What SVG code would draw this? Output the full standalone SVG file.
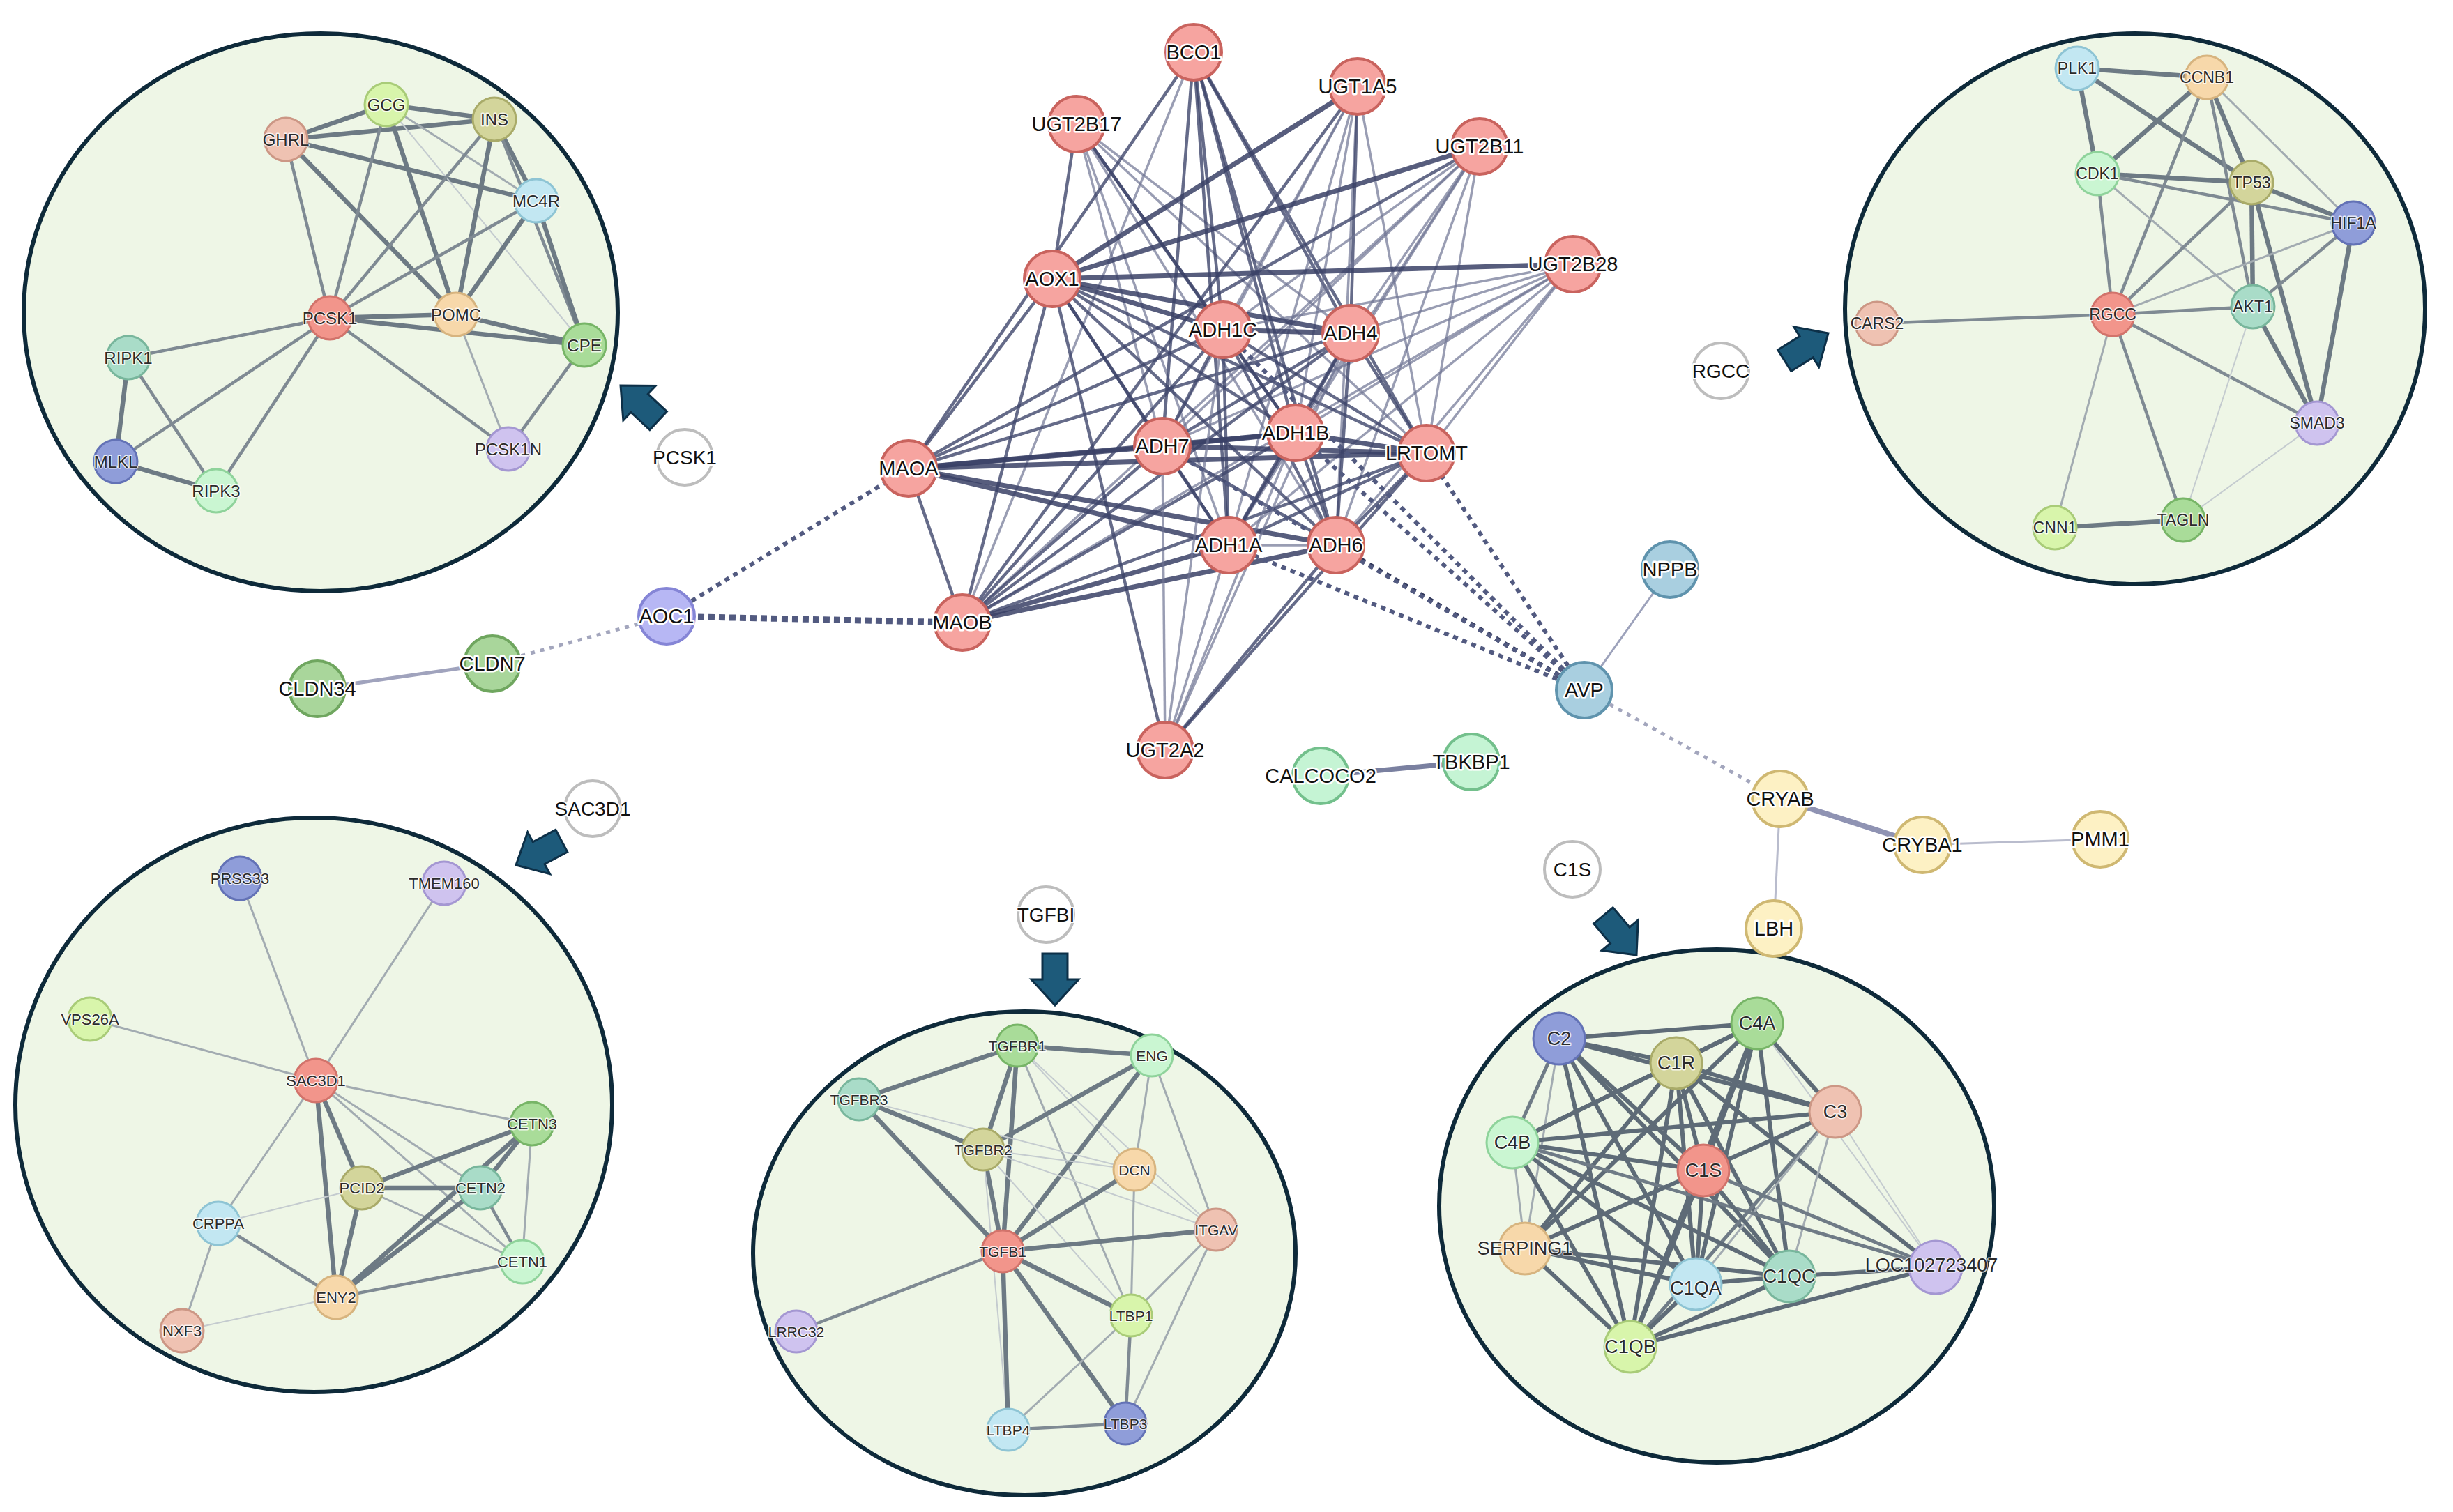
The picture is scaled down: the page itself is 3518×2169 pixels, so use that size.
<svg xmlns="http://www.w3.org/2000/svg" width="3518" height="2169" viewBox="0 0 3518 2169">
<style>
.bg{fill:#fff}
.cl{fill:#eef6e6;stroke:#0e2a3a;stroke-width:6}
line{fill:none}
.k1{stroke:#6d7a84;stroke-width:6.5}
.k2{stroke:#7f8a93;stroke-width:4.5}
.k3{stroke:#a2abb1;stroke-width:3}
.k4{stroke:#c4cbcf;stroke-width:2}
.br .k1{stroke:#5e6b77;stroke-width:6}
.br .k2{stroke:#6f7b86;stroke-width:5}
.e1{stroke:#3a4166;stroke-width:7;stroke-opacity:.85}
.e2{stroke:#3f466b;stroke-width:4.5;stroke-opacity:.8}
.e3{stroke:#6d7493;stroke-width:3.5;stroke-opacity:.7}
.dt{stroke:#525a80;stroke-width:6;stroke-dasharray:7 7}
.dk{stroke:#2f3659;stroke-width:7;stroke-dasharray:7 7}
.dl{stroke:#a3a6bd;stroke-width:5;stroke-dasharray:6 8}
.n{stroke-width:3}
.red{fill:#f2958b;stroke:#d2736b}
.lgr{fill:#d8f5ab;stroke:#a9cc78}
.olv{fill:#d3d59b;stroke:#a9ab69}
.sal{fill:#efc2b2;stroke:#cc9785}
.lbl{fill:#c2e7f2;stroke:#8ec4d4}
.pch{fill:#f7d8aa;stroke:#d7b47f}
.grn{fill:#a9dc99;stroke:#77b567}
.tea{fill:#a9dcc8;stroke:#78b69c}
.blu{fill:#8f9dd9;stroke:#6372b6}
.mnt{fill:#caf6d2;stroke:#8fd39b}
.lav{fill:#cfc3ef;stroke:#a497d2}
.c{stroke-width:4}
.cr{fill:#f6a4a0;stroke:#c9635e}
.cb{fill:#a9cfe0;stroke:#5f93ad}
.cp{fill:#b7b7f4;stroke:#8585d6}
.cg{fill:#a9d69b;stroke:#6fa65f}
.cm{fill:#c5f4d4;stroke:#73c08c}
.cy{fill:#fdf1c4;stroke:#cfb872}
.cw{fill:#fff;stroke:#bdbdbd}
text{font-family:"Liberation Sans",Arial,sans-serif;text-anchor:middle;dominant-baseline:central;paint-order:stroke;stroke-linejoin:round}
.lc{font-size:29px;fill:#111;stroke:#fff;stroke-width:5}
.lw{font-size:28px;fill:#111;stroke:#fff;stroke-width:4}
.ls{fill:#2b2b2b;stroke:#fff;stroke-width:3;stroke-opacity:.8}
.f24{font-size:24px}.f23{font-size:23px}.f22{font-size:22px}.f21{font-size:21px}.f27{font-size:27px}
.arr{fill:#1d5a7a;stroke:#0d3048;stroke-width:3;stroke-linejoin:miter}
</style>
<defs>
<path id="arrow" class="arr" d="M0,0 L-37,-34 L-37,-18 L-74,-18 L-74,18 L-37,18 L-37,34 Z"/>
</defs>
<rect class="bg" x="0" y="0" width="3518" height="2169"/>

<g id="clusters">
<ellipse id="cluster-tl" class="cl" cx="460" cy="448" rx="426" ry="400"/>
<ellipse id="cluster-tr" class="cl" cx="3062" cy="443" rx="416" ry="395"/>
<ellipse id="cluster-bl" class="cl" cx="450" cy="1585" rx="428" ry="412"/>
<ellipse id="cluster-bm" class="cl" cx="1469" cy="1798" rx="389" ry="347"/>
<ellipse id="cluster-br" class="cl" cx="2462" cy="1730" rx="398" ry="368"/>
</g>

<g id="connectors">
<g id="edges-tl">
<line class="k1" x1="410" y1="200" x2="554" y2="150"/>
<line class="k1" x1="410" y1="200" x2="709" y2="171"/>
<line class="k1" x1="554" y1="150" x2="709" y2="171"/>
<line class="k1" x1="410" y1="200" x2="769" y2="288"/>
<line class="k2" x1="410" y1="200" x2="473" y2="456"/>
<line class="k1" x1="410" y1="200" x2="654" y2="451"/>
<line class="k2" x1="554" y1="150" x2="473" y2="456"/>
<line class="k1" x1="554" y1="150" x2="654" y2="451"/>
<line class="k3" x1="554" y1="150" x2="769" y2="288"/>
<line class="k4" x1="554" y1="150" x2="838" y2="495"/>
<line class="k1" x1="709" y1="171" x2="769" y2="288"/>
<line class="k2" x1="709" y1="171" x2="473" y2="456"/>
<line class="k1" x1="709" y1="171" x2="654" y2="451"/>
<line class="k2" x1="709" y1="171" x2="838" y2="495"/>
<line class="k2" x1="769" y1="288" x2="473" y2="456"/>
<line class="k1" x1="769" y1="288" x2="654" y2="451"/>
<line class="k1" x1="769" y1="288" x2="838" y2="495"/>
<line class="k1" x1="473" y1="456" x2="654" y2="451"/>
<line class="k1" x1="473" y1="456" x2="838" y2="495"/>
<line class="k1" x1="654" y1="451" x2="838" y2="495"/>
<line class="k2" x1="473" y1="456" x2="184" y2="513"/>
<line class="k2" x1="473" y1="456" x2="166" y2="662"/>
<line class="k2" x1="473" y1="456" x2="310" y2="704"/>
<line class="k2" x1="473" y1="456" x2="729" y2="644"/>
<line class="k3" x1="654" y1="451" x2="729" y2="644"/>
<line class="k2" x1="838" y1="495" x2="729" y2="644"/>
<line class="k1" x1="184" y1="513" x2="166" y2="662"/>
<line class="k2" x1="184" y1="513" x2="310" y2="704"/>
<line class="k1" x1="166" y1="662" x2="310" y2="704"/>
</g>
<g id="edges-tr">
<line class="k1" x1="2979" y1="98" x2="3165" y2="111"/>
<line class="k1" x1="2979" y1="98" x2="3008" y2="249"/>
<line class="k1" x1="2979" y1="98" x2="3229" y2="262"/>
<line class="k1" x1="3165" y1="111" x2="3008" y2="249"/>
<line class="k1" x1="3165" y1="111" x2="3229" y2="262"/>
<line class="k2" x1="3165" y1="111" x2="3030" y2="451"/>
<line class="k2" x1="3165" y1="111" x2="3231" y2="440"/>
<line class="k3" x1="3165" y1="111" x2="3375" y2="320"/>
<line class="k1" x1="3008" y1="249" x2="3229" y2="262"/>
<line class="k2" x1="3008" y1="249" x2="3375" y2="320"/>
<line class="k2" x1="3008" y1="249" x2="3030" y2="451"/>
<line class="k3" x1="3008" y1="249" x2="3231" y2="440"/>
<line class="k1" x1="3229" y1="262" x2="3375" y2="320"/>
<line class="k2" x1="3229" y1="262" x2="3030" y2="451"/>
<line class="k1" x1="3229" y1="262" x2="3231" y2="440"/>
<line class="k1" x1="3229" y1="262" x2="3323" y2="607"/>
<line class="k3" x1="3375" y1="320" x2="3030" y2="451"/>
<line class="k2" x1="3375" y1="320" x2="3231" y2="440"/>
<line class="k1" x1="3375" y1="320" x2="3323" y2="607"/>
<line class="k2" x1="3030" y1="451" x2="3231" y2="440"/>
<line class="k2" x1="3030" y1="451" x2="2692" y2="464"/>
<line class="k2" x1="3030" y1="451" x2="3323" y2="607"/>
<line class="k3" x1="3030" y1="451" x2="2947" y2="757"/>
<line class="k2" x1="3030" y1="451" x2="3131" y2="746"/>
<line class="k1" x1="3231" y1="440" x2="3323" y2="607"/>
<line class="k4" x1="3231" y1="440" x2="3131" y2="746"/>
<line class="k4" x1="3323" y1="607" x2="3131" y2="746"/>
<line class="k1" x1="2947" y1="757" x2="3131" y2="746"/>
</g>
<g id="edges-bl">
<line class="k3" x1="344" y1="1260" x2="453" y2="1550"/>
<line class="k3" x1="637" y1="1267" x2="453" y2="1550"/>
<line class="k3" x1="129" y1="1462" x2="453" y2="1550"/>
<line class="k3" x1="453" y1="1550" x2="763" y2="1612"/>
<line class="k1" x1="453" y1="1550" x2="519" y2="1704"/>
<line class="k1" x1="453" y1="1550" x2="482" y2="1861"/>
<line class="k3" x1="453" y1="1550" x2="689" y2="1704"/>
<line class="k3" x1="453" y1="1550" x2="749" y2="1810"/>
<line class="k3" x1="453" y1="1550" x2="313" y2="1755"/>
<line class="k1" x1="519" y1="1704" x2="763" y2="1612"/>
<line class="k1" x1="519" y1="1704" x2="689" y2="1704"/>
<line class="k1" x1="519" y1="1704" x2="482" y2="1861"/>
<line class="k4" x1="519" y1="1704" x2="313" y2="1755"/>
<line class="k3" x1="519" y1="1704" x2="749" y2="1810"/>
<line class="k1" x1="689" y1="1704" x2="763" y2="1612"/>
<line class="k1" x1="689" y1="1704" x2="482" y2="1861"/>
<line class="k1" x1="763" y1="1612" x2="482" y2="1861"/>
<line class="k2" x1="689" y1="1704" x2="749" y2="1810"/>
<line class="k3" x1="763" y1="1612" x2="749" y2="1810"/>
<line class="k2" x1="482" y1="1861" x2="749" y2="1810"/>
<line class="k2" x1="482" y1="1861" x2="313" y2="1755"/>
<line class="k4" x1="482" y1="1861" x2="261" y2="1909"/>
<line class="k3" x1="313" y1="1755" x2="261" y2="1909"/>
</g>
<g id="edges-bm">
<line class="k1" x1="1459" y1="1500" x2="1652" y2="1514"/>
<line class="k1" x1="1459" y1="1500" x2="1232" y2="1577"/>
<line class="k1" x1="1459" y1="1500" x2="1410" y2="1649"/>
<line class="k1" x1="1459" y1="1500" x2="1438" y2="1795"/>
<line class="k4" x1="1459" y1="1500" x2="1627" y2="1678"/>
<line class="k3" x1="1459" y1="1500" x2="1622" y2="1887"/>
<line class="k4" x1="1459" y1="1500" x2="1744" y2="1764"/>
<line class="k1" x1="1652" y1="1514" x2="1410" y2="1649"/>
<line class="k1" x1="1652" y1="1514" x2="1438" y2="1795"/>
<line class="k3" x1="1652" y1="1514" x2="1627" y2="1678"/>
<line class="k3" x1="1652" y1="1514" x2="1744" y2="1764"/>
<line class="k1" x1="1232" y1="1577" x2="1410" y2="1649"/>
<line class="k1" x1="1232" y1="1577" x2="1438" y2="1795"/>
<line class="k4" x1="1232" y1="1577" x2="1627" y2="1678"/>
<line class="k1" x1="1410" y1="1649" x2="1438" y2="1795"/>
<line class="k4" x1="1410" y1="1649" x2="1627" y2="1678"/>
<line class="k4" x1="1410" y1="1649" x2="1744" y2="1764"/>
<line class="k4" x1="1410" y1="1649" x2="1622" y2="1887"/>
<line class="k4" x1="1410" y1="1649" x2="1446" y2="2051"/>
<line class="k1" x1="1627" y1="1678" x2="1438" y2="1795"/>
<line class="k3" x1="1627" y1="1678" x2="1622" y2="1887"/>
<line class="k4" x1="1627" y1="1678" x2="1744" y2="1764"/>
<line class="k1" x1="1744" y1="1764" x2="1438" y2="1795"/>
<line class="k3" x1="1744" y1="1764" x2="1622" y2="1887"/>
<line class="k3" x1="1744" y1="1764" x2="1614" y2="2042"/>
<line class="k1" x1="1438" y1="1795" x2="1622" y2="1887"/>
<line class="k2" x1="1438" y1="1795" x2="1142" y2="1910"/>
<line class="k1" x1="1438" y1="1795" x2="1446" y2="2051"/>
<line class="k1" x1="1438" y1="1795" x2="1614" y2="2042"/>
<line class="k2" x1="1622" y1="1887" x2="1614" y2="2042"/>
<line class="k3" x1="1622" y1="1887" x2="1446" y2="2051"/>
<line class="k2" x1="1446" y1="2051" x2="1614" y2="2042"/>
</g>
<g id="edges-br" class="br">
<line class="k1" x1="2236" y1="1490" x2="2520" y2="1468"/>
<line class="k1" x1="2236" y1="1490" x2="2404" y2="1525"/>
<line class="k1" x1="2236" y1="1490" x2="2632" y2="1595"/>
<line class="k2" x1="2236" y1="1490" x2="2169" y2="1639"/>
<line class="k3" x1="2236" y1="1490" x2="2187" y2="1791"/>
<line class="k1" x1="2236" y1="1490" x2="2338" y2="1932"/>
<line class="k1" x1="2236" y1="1490" x2="2432" y2="1842"/>
<line class="k1" x1="2236" y1="1490" x2="2566" y2="1831"/>
<line class="k1" x1="2236" y1="1490" x2="2443" y2="1679"/>
<line class="k1" x1="2520" y1="1468" x2="2404" y2="1525"/>
<line class="k1" x1="2520" y1="1468" x2="2632" y2="1595"/>
<line class="k1" x1="2520" y1="1468" x2="2169" y2="1639"/>
<line class="k1" x1="2520" y1="1468" x2="2443" y2="1679"/>
<line class="k1" x1="2520" y1="1468" x2="2432" y2="1842"/>
<line class="k1" x1="2520" y1="1468" x2="2338" y2="1932"/>
<line class="k1" x1="2520" y1="1468" x2="2566" y2="1831"/>
<line class="k4" x1="2520" y1="1468" x2="2776" y2="1818"/>
<line class="k1" x1="2520" y1="1468" x2="2187" y2="1791"/>
<line class="k1" x1="2404" y1="1525" x2="2632" y2="1595"/>
<line class="k1" x1="2404" y1="1525" x2="2169" y2="1639"/>
<line class="k1" x1="2404" y1="1525" x2="2443" y2="1679"/>
<line class="k1" x1="2404" y1="1525" x2="2187" y2="1791"/>
<line class="k1" x1="2404" y1="1525" x2="2432" y2="1842"/>
<line class="k1" x1="2404" y1="1525" x2="2338" y2="1932"/>
<line class="k1" x1="2404" y1="1525" x2="2566" y2="1831"/>
<line class="k1" x1="2404" y1="1525" x2="2776" y2="1818"/>
<line class="k1" x1="2632" y1="1595" x2="2169" y2="1639"/>
<line class="k1" x1="2632" y1="1595" x2="2443" y2="1679"/>
<line class="k2" x1="2632" y1="1595" x2="2338" y2="1932"/>
<line class="k3" x1="2632" y1="1595" x2="2432" y2="1842"/>
<line class="k3" x1="2632" y1="1595" x2="2566" y2="1831"/>
<line class="k4" x1="2632" y1="1595" x2="2776" y2="1818"/>
<line class="k1" x1="2169" y1="1639" x2="2443" y2="1679"/>
<line class="k3" x1="2169" y1="1639" x2="2187" y2="1791"/>
<line class="k1" x1="2169" y1="1639" x2="2432" y2="1842"/>
<line class="k1" x1="2169" y1="1639" x2="2338" y2="1932"/>
<line class="k1" x1="2169" y1="1639" x2="2566" y2="1831"/>
<line class="k2" x1="2169" y1="1639" x2="2776" y2="1818"/>
<line class="k1" x1="2443" y1="1679" x2="2187" y2="1791"/>
<line class="k1" x1="2443" y1="1679" x2="2432" y2="1842"/>
<line class="k1" x1="2443" y1="1679" x2="2338" y2="1932"/>
<line class="k1" x1="2443" y1="1679" x2="2566" y2="1831"/>
<line class="k2" x1="2443" y1="1679" x2="2776" y2="1818"/>
<line class="k1" x1="2187" y1="1791" x2="2432" y2="1842"/>
<line class="k1" x1="2187" y1="1791" x2="2566" y2="1831"/>
<line class="k1" x1="2187" y1="1791" x2="2338" y2="1932"/>
<line class="k1" x1="2432" y1="1842" x2="2566" y2="1831"/>
<line class="k1" x1="2432" y1="1842" x2="2338" y2="1932"/>
<line class="k1" x1="2566" y1="1831" x2="2338" y2="1932"/>
<line class="k1" x1="2566" y1="1831" x2="2776" y2="1818"/>
<line class="k1" x1="2338" y1="1932" x2="2776" y2="1818"/>
</g>
<g id="edges-center">
<line class="e2" x1="1544" y1="178" x2="1509" y2="400"/>
<line class="e3" x1="1544" y1="178" x2="1667" y2="640"/>
<line class="e2" x1="1544" y1="178" x2="1754" y2="473"/>
<line class="e2" x1="1544" y1="178" x2="1858" y2="621"/>
<line class="e3" x1="1544" y1="178" x2="1762" y2="782"/>
<line class="e3" x1="1544" y1="178" x2="1916" y2="782"/>
<line class="e3" x1="1544" y1="178" x2="1937" y2="478"/>
<line class="e3" x1="1544" y1="178" x2="2046" y2="650"/>
<line class="e2" x1="1712" y1="75" x2="1303" y2="672"/>
<line class="e2" x1="1712" y1="75" x2="1667" y2="640"/>
<line class="e2" x1="1712" y1="75" x2="1754" y2="473"/>
<line class="e2" x1="1712" y1="75" x2="1858" y2="621"/>
<line class="e2" x1="1712" y1="75" x2="1762" y2="782"/>
<line class="e2" x1="1712" y1="75" x2="1916" y2="782"/>
<line class="e2" x1="1712" y1="75" x2="1937" y2="478"/>
<line class="e2" x1="1712" y1="75" x2="2046" y2="650"/>
<line class="e3" x1="1712" y1="75" x2="1380" y2="893"/>
<line class="e1" x1="1947" y1="124" x2="1509" y2="400"/>
<line class="e3" x1="1947" y1="124" x2="1667" y2="640"/>
<line class="e3" x1="1947" y1="124" x2="1754" y2="473"/>
<line class="e3" x1="1947" y1="124" x2="1858" y2="621"/>
<line class="e3" x1="1947" y1="124" x2="1762" y2="782"/>
<line class="e3" x1="1947" y1="124" x2="1916" y2="782"/>
<line class="e2" x1="1947" y1="124" x2="1937" y2="478"/>
<line class="e3" x1="1947" y1="124" x2="2046" y2="650"/>
<line class="e2" x1="1947" y1="124" x2="1380" y2="893"/>
<line class="e1" x1="2122" y1="210" x2="1509" y2="400"/>
<line class="e3" x1="2122" y1="210" x2="1667" y2="640"/>
<line class="e3" x1="2122" y1="210" x2="1754" y2="473"/>
<line class="e3" x1="2122" y1="210" x2="1858" y2="621"/>
<line class="e3" x1="2122" y1="210" x2="1762" y2="782"/>
<line class="e3" x1="2122" y1="210" x2="1916" y2="782"/>
<line class="e3" x1="2122" y1="210" x2="1937" y2="478"/>
<line class="e3" x1="2122" y1="210" x2="2046" y2="650"/>
<line class="e2" x1="2122" y1="210" x2="1303" y2="672"/>
<line class="e3" x1="2122" y1="210" x2="1380" y2="893"/>
<line class="e1" x1="2256" y1="379" x2="1509" y2="400"/>
<line class="e3" x1="2256" y1="379" x2="1667" y2="640"/>
<line class="e3" x1="2256" y1="379" x2="1754" y2="473"/>
<line class="e3" x1="2256" y1="379" x2="1858" y2="621"/>
<line class="e3" x1="2256" y1="379" x2="1762" y2="782"/>
<line class="e3" x1="2256" y1="379" x2="1916" y2="782"/>
<line class="e3" x1="2256" y1="379" x2="1937" y2="478"/>
<line class="e3" x1="2256" y1="379" x2="2046" y2="650"/>
<line class="e3" x1="2256" y1="379" x2="1380" y2="893"/>
<line class="e2" x1="1509" y1="400" x2="1303" y2="672"/>
<line class="e2" x1="1509" y1="400" x2="1380" y2="893"/>
<line class="e2" x1="1509" y1="400" x2="1667" y2="640"/>
<line class="e1" x1="1509" y1="400" x2="1754" y2="473"/>
<line class="e1" x1="1509" y1="400" x2="1937" y2="478"/>
<line class="e2" x1="1509" y1="400" x2="1858" y2="621"/>
<line class="e2" x1="1509" y1="400" x2="1762" y2="782"/>
<line class="e2" x1="1509" y1="400" x2="1916" y2="782"/>
<line class="e2" x1="1509" y1="400" x2="2046" y2="650"/>
<line class="e2" x1="1509" y1="400" x2="1671" y2="1076"/>
<line class="e2" x1="1303" y1="672" x2="1380" y2="893"/>
<line class="e1" x1="1303" y1="672" x2="1667" y2="640"/>
<line class="e1" x1="1303" y1="672" x2="1858" y2="621"/>
<line class="e1" x1="1303" y1="672" x2="2046" y2="650"/>
<line class="e1" x1="1303" y1="672" x2="1762" y2="782"/>
<line class="e1" x1="1303" y1="672" x2="1916" y2="782"/>
<line class="e2" x1="1303" y1="672" x2="1754" y2="473"/>
<line class="e2" x1="1303" y1="672" x2="1937" y2="478"/>
<line class="e2" x1="1380" y1="893" x2="1667" y2="640"/>
<line class="e2" x1="1380" y1="893" x2="1754" y2="473"/>
<line class="e2" x1="1380" y1="893" x2="1858" y2="621"/>
<line class="e2" x1="1380" y1="893" x2="1937" y2="478"/>
<line class="e1" x1="1380" y1="893" x2="1762" y2="782"/>
<line class="e1" x1="1380" y1="893" x2="1916" y2="782"/>
<line class="e2" x1="1380" y1="893" x2="2046" y2="650"/>
<line class="e1" x1="1754" y1="473" x2="1937" y2="478"/>
<line class="e2" x1="1754" y1="473" x2="1667" y2="640"/>
<line class="e2" x1="1754" y1="473" x2="1858" y2="621"/>
<line class="e2" x1="1754" y1="473" x2="2046" y2="650"/>
<line class="e2" x1="1754" y1="473" x2="1762" y2="782"/>
<line class="e2" x1="1754" y1="473" x2="1916" y2="782"/>
<line class="e2" x1="1937" y1="478" x2="1667" y2="640"/>
<line class="e2" x1="1937" y1="478" x2="1858" y2="621"/>
<line class="e2" x1="1937" y1="478" x2="2046" y2="650"/>
<line class="e2" x1="1937" y1="478" x2="1762" y2="782"/>
<line class="e2" x1="1937" y1="478" x2="1916" y2="782"/>
<line class="e1" x1="1667" y1="640" x2="1858" y2="621"/>
<line class="e1" x1="1667" y1="640" x2="2046" y2="650"/>
<line class="e2" x1="1667" y1="640" x2="1762" y2="782"/>
<line class="e2" x1="1667" y1="640" x2="1916" y2="782"/>
<line class="e1" x1="1858" y1="621" x2="2046" y2="650"/>
<line class="e2" x1="1858" y1="621" x2="1762" y2="782"/>
<line class="e2" x1="1858" y1="621" x2="1916" y2="782"/>
<line class="e2" x1="2046" y1="650" x2="1762" y2="782"/>
<line class="e2" x1="2046" y1="650" x2="1916" y2="782"/>
<line class="e3" x1="1762" y1="782" x2="1916" y2="782"/>
<line class="e3" x1="1671" y1="1076" x2="1667" y2="640"/>
<line class="e3" x1="1671" y1="1076" x2="1754" y2="473"/>
<line class="e3" x1="1671" y1="1076" x2="1858" y2="621"/>
<line class="e3" x1="1671" y1="1076" x2="1762" y2="782"/>
<line class="e2" x1="1671" y1="1076" x2="1916" y2="782"/>
<line class="e3" x1="1671" y1="1076" x2="1937" y2="478"/>
<line class="e2" x1="1671" y1="1076" x2="2046" y2="650"/>
</g>
<g id="edges-other">
<line class="dt" x1="956" y1="884" x2="1303" y2="672"/>
<line class="dt" style="stroke-width:9;stroke-dasharray:9 6" x1="956" y1="884" x2="1380" y2="893"/>
<line class="dl" x1="956" y1="884" x2="706" y2="952"/>
<line stroke="#a0a3bd" stroke-width="5" x1="706" y1="952" x2="455" y2="988"/>
<line class="dt" x1="2272" y1="990" x2="1762" y2="782"/>
<line class="dk" x1="2272" y1="990" x2="1916" y2="782"/>
<line class="dt" x1="2272" y1="990" x2="1858" y2="621"/>
<line class="dt" x1="2272" y1="990" x2="2046" y2="650"/>
<line class="dt" x1="2272" y1="990" x2="1754" y2="473"/>
<line class="dt" x1="2272" y1="990" x2="1667" y2="640"/>
<line stroke="#9da2bb" stroke-width="3" x1="2272" y1="990" x2="2395" y2="817"/>
<line class="dl" x1="2272" y1="990" x2="2553" y2="1146"/>
<line stroke="#8f93b3" stroke-width="8" x1="2553" y1="1146" x2="2757" y2="1212"/>
<line stroke="#b9bccd" stroke-width="3" x1="2757" y1="1212" x2="3012" y2="1204"/>
<line stroke="#b9bccd" stroke-width="3" x1="2553" y1="1146" x2="2544" y2="1332"/>
<line stroke="#7a80a0" stroke-width="7" x1="1894" y1="1113" x2="2110" y2="1093"/>
</g>
</g>

<g id="nodes-tl">
<g id="tl-GCG"><circle class="n lgr" cx="554" cy="150" r="31"/><text class="ls f24" x="554" y="150">GCG</text></g>
<g id="tl-INS"><circle class="n olv" cx="709" cy="171" r="31"/><text class="ls f24" x="709" y="171">INS</text></g>
<g id="tl-GHRL"><circle class="n sal" cx="410" cy="200" r="31"/><text class="ls f24" x="410" y="200">GHRL</text></g>
<g id="tl-MC4R"><circle class="n lbl" cx="769" cy="288" r="31"/><text class="ls f24" x="769" y="288">MC4R</text></g>
<g id="tl-PCSK1"><circle class="n red" cx="473" cy="456" r="31"/><text class="ls f24" x="473" y="456">PCSK1</text></g>
<g id="tl-POMC"><circle class="n pch" cx="654" cy="451" r="31"/><text class="ls f24" x="654" y="451">POMC</text></g>
<g id="tl-CPE"><circle class="n grn" cx="838" cy="495" r="31"/><text class="ls f24" x="838" y="495">CPE</text></g>
<g id="tl-RIPK1"><circle class="n tea" cx="184" cy="513" r="31"/><text class="ls f24" x="184" y="513">RIPK1</text></g>
<g id="tl-MLKL"><circle class="n blu" cx="166" cy="662" r="31"/><text class="ls f24" x="166" y="662">MLKL</text></g>
<g id="tl-RIPK3"><circle class="n mnt" cx="310" cy="704" r="31"/><text class="ls f24" x="310" y="704">RIPK3</text></g>
<g id="tl-PCSK1N"><circle class="n lav" cx="729" cy="644" r="31"/><text class="ls f24" x="729" y="644">PCSK1N</text></g>
</g>

<g id="nodes-tr">
<g id="tr-PLK1"><circle class="n lbl" cx="2979" cy="98" r="31"/><text class="ls f23" x="2979" y="98">PLK1</text></g>
<g id="tr-CCNB1"><circle class="n pch" cx="3165" cy="111" r="31"/><text class="ls f23" x="3165" y="111">CCNB1</text></g>
<g id="tr-CDK1"><circle class="n mnt" cx="3008" cy="249" r="31"/><text class="ls f23" x="3008" y="249">CDK1</text></g>
<g id="tr-TP53"><circle class="n olv" cx="3229" cy="262" r="31"/><text class="ls f23" x="3229" y="262">TP53</text></g>
<g id="tr-HIF1A"><circle class="n blu" cx="3375" cy="320" r="31"/><text class="ls f23" x="3375" y="320">HIF1A</text></g>
<g id="tr-CARS2"><circle class="n sal" cx="2692" cy="464" r="31"/><text class="ls f23" x="2692" y="464">CARS2</text></g>
<g id="tr-RGCC"><circle class="n red" cx="3030" cy="451" r="31"/><text class="ls f23" x="3030" y="451">RGCC</text></g>
<g id="tr-AKT1"><circle class="n tea" cx="3231" cy="440" r="31"/><text class="ls f23" x="3231" y="440">AKT1</text></g>
<g id="tr-SMAD3"><circle class="n lav" cx="3323" cy="607" r="31"/><text class="ls f23" x="3323" y="607">SMAD3</text></g>
<g id="tr-CNN1"><circle class="n lgr" cx="2947" cy="757" r="31"/><text class="ls f23" x="2947" y="757">CNN1</text></g>
<g id="tr-TAGLN"><circle class="n grn" cx="3131" cy="746" r="31"/><text class="ls f23" x="3131" y="746">TAGLN</text></g>
</g>

<g id="nodes-bl">
<g id="bl-PRSS33"><circle class="n blu" cx="344" cy="1260" r="31"/><text class="ls f22" x="344" y="1260">PRSS33</text></g>
<g id="bl-TMEM160"><circle class="n lav" cx="637" cy="1267" r="31"/><text class="ls f22" x="637" y="1267">TMEM160</text></g>
<g id="bl-VPS26A"><circle class="n lgr" cx="129" cy="1462" r="31"/><text class="ls f22" x="129" y="1462">VPS26A</text></g>
<g id="bl-SAC3D1"><circle class="n red" cx="453" cy="1550" r="31"/><text class="ls f22" x="453" y="1550">SAC3D1</text></g>
<g id="bl-CETN3"><circle class="n grn" cx="763" cy="1612" r="31"/><text class="ls f22" x="763" y="1612">CETN3</text></g>
<g id="bl-PCID2"><circle class="n olv" cx="519" cy="1704" r="31"/><text class="ls f22" x="519" y="1704">PCID2</text></g>
<g id="bl-CETN2"><circle class="n tea" cx="689" cy="1704" r="31"/><text class="ls f22" x="689" y="1704">CETN2</text></g>
<g id="bl-CRPPA"><circle class="n lbl" cx="313" cy="1755" r="31"/><text class="ls f22" x="313" y="1755">CRPPA</text></g>
<g id="bl-CETN1"><circle class="n mnt" cx="749" cy="1810" r="31"/><text class="ls f22" x="749" y="1810">CETN1</text></g>
<g id="bl-ENY2"><circle class="n pch" cx="482" cy="1861" r="31"/><text class="ls f22" x="482" y="1861">ENY2</text></g>
<g id="bl-NXF3"><circle class="n sal" cx="261" cy="1909" r="31"/><text class="ls f22" x="261" y="1909">NXF3</text></g>
</g>

<g id="nodes-bm">
<g id="bm-TGFBR1"><circle class="n grn" cx="1459" cy="1500" r="30"/><text class="ls f21" x="1459" y="1500">TGFBR1</text></g>
<g id="bm-ENG"><circle class="n mnt" cx="1652" cy="1514" r="30"/><text class="ls f21" x="1652" y="1514">ENG</text></g>
<g id="bm-TGFBR3"><circle class="n tea" cx="1232" cy="1577" r="30"/><text class="ls f21" x="1232" y="1577">TGFBR3</text></g>
<g id="bm-TGFBR2"><circle class="n olv" cx="1410" cy="1649" r="30"/><text class="ls f21" x="1410" y="1649">TGFBR2</text></g>
<g id="bm-DCN"><circle class="n pch" cx="1627" cy="1678" r="30"/><text class="ls f21" x="1627" y="1678">DCN</text></g>
<g id="bm-ITGAV"><circle class="n sal" cx="1744" cy="1764" r="30"/><text class="ls f21" x="1744" y="1764">ITGAV</text></g>
<g id="bm-TGFB1"><circle class="n red" cx="1438" cy="1795" r="30"/><text class="ls f21" x="1438" y="1795">TGFB1</text></g>
<g id="bm-LTBP1"><circle class="n lgr" cx="1622" cy="1887" r="30"/><text class="ls f21" x="1622" y="1887">LTBP1</text></g>
<g id="bm-LRRC32"><circle class="n lav" cx="1142" cy="1910" r="30"/><text class="ls f21" x="1142" y="1910">LRRC32</text></g>
<g id="bm-LTBP4"><circle class="n lbl" cx="1446" cy="2051" r="30"/><text class="ls f21" x="1446" y="2051">LTBP4</text></g>
<g id="bm-LTBP3"><circle class="n blu" cx="1614" cy="2042" r="30"/><text class="ls f21" x="1614" y="2042">LTBP3</text></g>
</g>

<g id="nodes-br">
<g id="br-C2"><circle class="n blu" cx="2236" cy="1490" r="37"/><text class="ls f27" x="2236" y="1490">C2</text></g>
<g id="br-C4A"><circle class="n grn" cx="2520" cy="1468" r="37"/><text class="ls f27" x="2520" y="1468">C4A</text></g>
<g id="br-C1R"><circle class="n olv" cx="2404" cy="1525" r="37"/><text class="ls f27" x="2404" y="1525">C1R</text></g>
<g id="br-C3"><circle class="n sal" cx="2632" cy="1595" r="37"/><text class="ls f27" x="2632" y="1595">C3</text></g>
<g id="br-C4B"><circle class="n mnt" cx="2169" cy="1639" r="37"/><text class="ls f27" x="2169" y="1639">C4B</text></g>
<g id="br-C1S"><circle class="n red" cx="2443" cy="1679" r="37"/><text class="ls f27" x="2443" y="1679">C1S</text></g>
<g id="br-SERPING1"><circle class="n pch" cx="2187" cy="1791" r="37"/><text class="ls f27" x="2187" y="1791">SERPING1</text></g>
<g id="br-C1QA"><circle class="n lbl" cx="2432" cy="1842" r="37"/><text class="ls f27" x="2432" y="1848">C1QA</text></g>
<g id="br-C1QC"><circle class="n tea" cx="2566" cy="1831" r="37"/><text class="ls f27" x="2566" y="1831">C1QC</text></g>
<g id="br-LOC102723407"><circle class="n lav" cx="2776" cy="1818" r="38"/><text class="ls f27" x="2770" y="1815">LOC102723407</text></g>
<g id="br-C1QB"><circle class="n lgr" cx="2338" cy="1932" r="37"/><text class="ls f27" x="2338" y="1932">C1QB</text></g>
</g>

<g id="nodes-center">
<g id="n-BCO1"><circle class="c cr" cx="1712" cy="75" r="40"/><text class="lc" x="1712" y="75">BCO1</text></g>
<g id="n-UGT1A5"><circle class="c cr" cx="1947" cy="124" r="40"/><text class="lc" x="1947" y="124">UGT1A5</text></g>
<g id="n-UGT2B17"><circle class="c cr" cx="1544" cy="178" r="40"/><text class="lc" x="1544" y="178">UGT2B17</text></g>
<g id="n-UGT2B11"><circle class="c cr" cx="2122" cy="210" r="40"/><text class="lc" x="2122" y="210">UGT2B11</text></g>
<g id="n-UGT2B28"><circle class="c cr" cx="2256" cy="379" r="40"/><text class="lc" x="2256" y="379">UGT2B28</text></g>
<g id="n-AOX1"><circle class="c cr" cx="1509" cy="400" r="40"/><text class="lc" x="1509" y="400">AOX1</text></g>
<g id="n-ADH1C"><circle class="c cr" cx="1754" cy="473" r="40"/><text class="lc" x="1754" y="473">ADH1C</text></g>
<g id="n-ADH4"><circle class="c cr" cx="1937" cy="478" r="40"/><text class="lc" x="1937" y="478">ADH4</text></g>
<g id="n-MAOA"><circle class="c cr" cx="1303" cy="672" r="40"/><text class="lc" x="1303" y="672">MAOA</text></g>
<g id="n-ADH7"><circle class="c cr" cx="1667" cy="640" r="40"/><text class="lc" x="1667" y="640">ADH7</text></g>
<g id="n-ADH1B"><circle class="c cr" cx="1858" cy="621" r="40"/><text class="lc" x="1858" y="621">ADH1B</text></g>
<g id="n-LRTOMT"><circle class="c cr" cx="2046" cy="650" r="40"/><text class="lc" x="2046" y="650">LRTOMT</text></g>
<g id="n-ADH1A"><circle class="c cr" cx="1762" cy="782" r="40"/><text class="lc" x="1762" y="782">ADH1A</text></g>
<g id="n-ADH6"><circle class="c cr" cx="1916" cy="782" r="40"/><text class="lc" x="1916" y="782">ADH6</text></g>
<g id="n-MAOB"><circle class="c cr" cx="1380" cy="893" r="40"/><text class="lc" x="1380" y="893">MAOB</text></g>
<g id="n-UGT2A2"><circle class="c cr" cx="1671" cy="1076" r="40"/><text class="lc" x="1671" y="1076">UGT2A2</text></g>
</g>

<g id="nodes-other">
<g id="n-AOC1"><circle class="c cp" cx="956" cy="884" r="40"/><text class="lc" x="956" y="884">AOC1</text></g>
<g id="n-CLDN7"><circle class="c cg" cx="706" cy="952" r="40"/><text class="lc" x="706" y="952">CLDN7</text></g>
<g id="n-CLDN34"><circle class="c cg" cx="455" cy="988" r="40"/><text class="lc" x="455" y="988">CLDN34</text></g>
<g id="n-AVP"><circle class="c cb" cx="2272" cy="990" r="40"/><text class="lc" x="2272" y="990">AVP</text></g>
<g id="n-NPPB"><circle class="c cb" cx="2395" cy="817" r="40"/><text class="lc" x="2395" y="817">NPPB</text></g>
<g id="n-CALCOCO2"><circle class="c cm" cx="1894" cy="1113" r="40"/><text class="lc" x="1894" y="1113">CALCOCO2</text></g>
<g id="n-TBKBP1"><circle class="c cm" cx="2110" cy="1093" r="40"/><text class="lc" x="2110" y="1093">TBKBP1</text></g>
<g id="n-CRYAB"><circle class="c cy" cx="2553" cy="1146" r="40"/><text class="lc" x="2553" y="1146">CRYAB</text></g>
<g id="n-CRYBA1"><circle class="c cy" cx="2757" cy="1212" r="40"/><text class="lc" x="2757" y="1212">CRYBA1</text></g>
<g id="n-PMM1"><circle class="c cy" cx="3012" cy="1204" r="40"/><text class="lc" x="3012" y="1204">PMM1</text></g>
<g id="n-LBH"><circle class="c cy" cx="2544" cy="1332" r="40"/><text class="lc" x="2544" y="1332">LBH</text></g>
<g id="s-PCSK1"><circle class="c cw" cx="982" cy="656" r="40"/><text class="lw" x="982" y="656">PCSK1</text></g>
<g id="s-RGCC"><circle class="c cw" cx="2468" cy="532" r="40"/><text class="lw" x="2468" y="532">RGCC</text></g>
<g id="s-SAC3D1"><circle class="c cw" cx="850" cy="1160" r="40"/><text class="lw" x="850" y="1160">SAC3D1</text></g>
<g id="s-TGFBI"><circle class="c cw" cx="1500" cy="1312" r="40"/><text class="lw" x="1500" y="1312">TGFBI</text></g>
<g id="s-C1S"><circle class="c cw" cx="2255" cy="1247" r="40"/><text class="lw" x="2255" y="1247">C1S</text></g>
</g>

<g id="arrows">
<use href="#arrow" transform="translate(890,553) rotate(-137)"/>
<use href="#arrow" transform="translate(2622,478) rotate(-32)"/>
<use href="#arrow" transform="translate(740,1241) rotate(152)"/>
<use href="#arrow" transform="translate(1513,1442) rotate(90)"/>
<use href="#arrow" transform="translate(2347,1370) rotate(50)"/>
</g>
</svg>
